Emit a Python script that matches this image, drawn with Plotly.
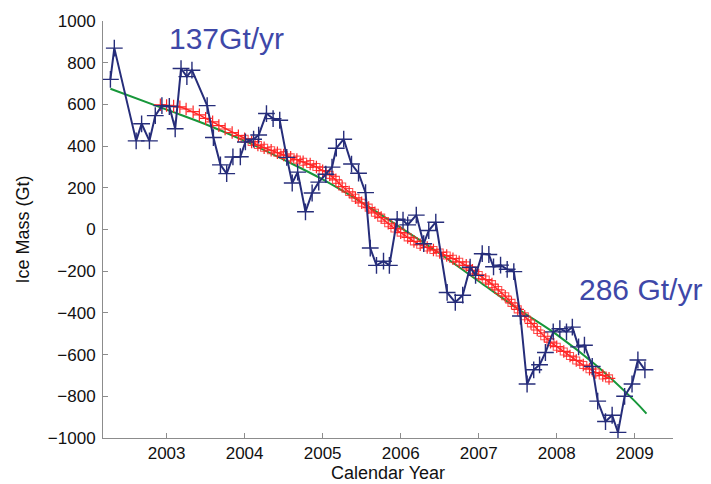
import plotly.graph_objects as go

# Monthly GRACE ice mass estimates (blue)
blue_year = [2002.28, 2002.33, 2002.61, 2002.68, 2002.78, 2002.855, 2002.94, 2003.035,
             2003.11, 2003.185, 2003.26, 2003.325, 2003.52, 2003.60, 2003.69, 2003.77,
             2003.85, 2003.945, 2004.01, 2004.115, 2004.18, 2004.28, 2004.365, 2004.45,
             2004.54, 2004.61, 2004.68, 2004.78, 2004.865, 2004.95, 2005.04, 2005.12,
             2005.175, 2005.27, 2005.37, 2005.46, 2005.55, 2005.61, 2005.69, 2005.78,
             2005.855, 2005.955, 2006.03, 2006.09, 2006.20, 2006.295, 2006.36, 2006.45,
             2006.595, 2006.70, 2006.795, 2006.89, 2006.96, 2007.045, 2007.13, 2007.19,
             2007.28, 2007.365, 2007.45, 2007.535, 2007.62, 2007.705, 2007.78, 2007.855,
             2007.955, 2008.04, 2008.125, 2008.20, 2008.28, 2008.355, 2008.455, 2008.525,
             2008.625, 2008.71, 2008.785, 2008.87, 2008.965, 2009.04, 2009.13]
blue_mass = [720, 870, 425, 507, 425, 546, 594, 590,
             483, 772, 733, 764, 594, 441, 310, 268,
             348, 349, 420, 433, 453, 556, 532, 524,
             346, 223, 275, 85, 175, 227, 265, 299,
             390, 433, 314, 270, 177, -89, -172, -152,
             -172, 49, 45, 22, 69, -68, -5, 35,
             -302, -349, -315, -181, -220, -116, -120, -179,
             -171, -191, -202, -415, -741, -673, -649, -590,
             -491, -476, -491, -468, -563, -555, -657, -823,
             -921, -891, -973, -800, -741, -626, -673]

# Smoothed series (red)
red_year = [2002.92, 2003.00, 2003.09, 2003.17, 2003.25, 2003.34, 2003.42, 2003.50,
            2003.59, 2003.67, 2003.75, 2003.84, 2003.92, 2004.00, 2004.09, 2004.17,
            2004.25, 2004.34, 2004.42, 2004.50, 2004.59, 2004.67, 2004.75, 2004.84,
            2004.92, 2005.00, 2005.09, 2005.17, 2005.25, 2005.34, 2005.42, 2005.50,
            2005.59, 2005.67, 2005.75, 2005.84, 2005.92, 2006.00, 2006.09, 2006.17,
            2006.25, 2006.34, 2006.42, 2006.50, 2006.59, 2006.67, 2006.75, 2006.84,
            2006.92, 2007.00, 2007.09, 2007.17, 2007.25, 2007.34, 2007.42, 2007.50,
            2007.59, 2007.67, 2007.75, 2007.84, 2007.92, 2008.00, 2008.09, 2008.17,
            2008.25, 2008.34, 2008.42, 2008.50, 2008.59, 2008.67]
red_mass = [598, 595, 592, 588, 578, 565, 550, 533,
            516, 498, 482, 465, 450, 435, 420, 405,
            392, 380, 368, 357, 346, 335, 325, 314,
            300, 282, 262, 238, 206, 180, 152, 128,
            105, 80, 57, 30, 5, -15, -38, -57,
            -73, -86, -98, -110, -125, -140, -155, -172,
            -196, -218, -240, -262, -290, -320, -352, -383,
            -416, -450, -482, -512, -540, -562, -585, -607,
            -628, -650, -670, -686, -700, -714]

# Quadratic fit (green)
green_year = [2002.28, 2003.0, 2003.5, 2004.0, 2004.5, 2005.0, 2005.5, 2006.0,
              2006.5, 2007.0, 2007.5, 2008.0, 2008.5, 2009.0, 2009.15]
green_mass = [675, 575, 505, 425, 335, 240, 130, 9,
              -115, -248, -380, -504, -650, -823, -883]

x_ticks = [2003, 2004, 2005, 2006, 2007, 2008, 2009]
y_ticks = [-1000, -800, -600, -400, -200, 0, 200, 400, 600, 800, 1000]

rate_labels = ["137Gt/yr", "286 Gt/yr"]

BLUE = "#262d7a"
RED = "#ff2626"
GREEN = "#17973a"
TEXT_BLUE = "#3e48a8"
FONT = "Liberation Sans, Arial, sans-serif"

fig = go.Figure()

fig.add_trace(go.Scatter(
    x=green_year, y=green_mass, mode="lines",
    line=dict(color=GREEN, width=2, shape="spline", smoothing=1.0),
    showlegend=False, hoverinfo="skip"))

sq_start = 13
fig.add_trace(go.Scatter(
    x=red_year[sq_start:], y=red_mass[sq_start:], mode="markers",
    marker=dict(symbol="square-open", size=7, color=RED, opacity=0.8,
                line=dict(width=1.1, color=RED)),
    showlegend=False))

fig.add_trace(go.Scatter(
    x=red_year, y=red_mass, mode="lines+markers",
    line=dict(color=RED, width=1.5),
    marker=dict(symbol="cross-thin", size=9, color=RED, line=dict(width=1.2, color=RED)),
    showlegend=False))

fig.add_trace(go.Scatter(
    x=blue_year, y=blue_mass, mode="lines+markers",
    line=dict(color=BLUE, width=2),
    marker=dict(symbol="cross-thin", size=12, color=BLUE, line=dict(width=1.4, color=BLUE)),
    showlegend=False))

fig.add_annotation(x=2003.0, y=915, xref="x", yref="y", text=rate_labels[0],
                   showarrow=False, xanchor="left", yanchor="middle",
                   font=dict(family=FONT, size=30, color=TEXT_BLUE))
fig.add_annotation(x=2008.26, y=-290, xref="x", yref="y", text=rate_labels[1],
                   showarrow=False, xanchor="left", yanchor="middle",
                   font=dict(family=FONT, size=30, color=TEXT_BLUE))

fig.add_annotation(x=0.5, y=-0.085, xref="paper", yref="paper", text="Calendar Year",
                   showarrow=False, xanchor="center", yanchor="middle",
                   font=dict(family=FONT, size=18, color="#111111"))
fig.add_annotation(x=-0.142, y=0.5, xref="paper", yref="paper", text="Ice Mass (Gt)",
                   showarrow=False, xanchor="center", yanchor="middle", textangle=-90,
                   font=dict(family=FONT, size=18, color="#111111"))

axis_common = dict(showgrid=False, zeroline=False, showline=True, linecolor="#8c8c8c",
                   linewidth=1, ticks="inside", ticklen=5, tickcolor="#8c8c8c",
                   tickfont=dict(family=FONT, size=17, color="#111111"))

fig.update_xaxes(range=[2002.185, 2009.49], tickvals=x_ticks,
                 ticktext=[str(v) for v in x_ticks], **axis_common)
fig.update_yaxes(range=[-1000, 1000], tickvals=y_ticks, ticklabelstandoff=3, **axis_common)

fig.update_layout(
    width=711, height=484,
    margin=dict(l=103, r=38, t=15, b=46),
    paper_bgcolor="white", plot_bgcolor="white",
    font=dict(family=FONT),
)

fig.write_html("out.html")
